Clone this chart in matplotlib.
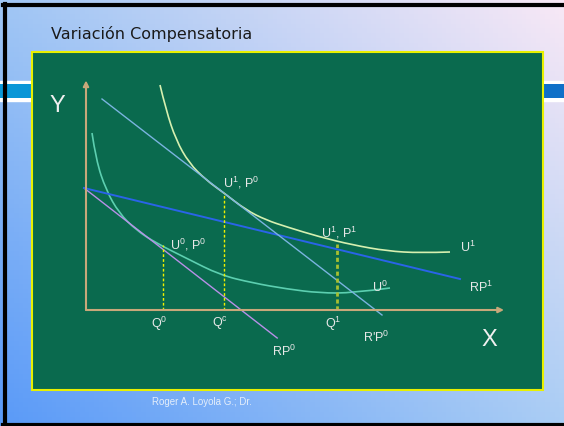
import numpy as np
import matplotlib.pyplot as plt
from matplotlib.patches import Rectangle, PathPatch
from matplotlib.path import Path

plt.rcParams['mathtext.fontset'] = 'custom'
plt.rcParams['mathtext.rm'] = 'Liberation Sans'
plt.rcParams['mathtext.it'] = 'Liberation Sans'

# budget lines (x, y) ends
rp0_x = [-0.05, 4.78]
rp0_y = [3.05, -0.70]
rp1_x = [-0.05, 9.35]
rp1_y = [3.05, 0.775]
rpp0_x = [0.40, 7.40]
rpp0_y = [5.275, -0.125]

# indifference curves
u1_x = [1.85, 2.0, 2.25, 2.575, 3.0, 3.45, 4.0, 4.5, 5.025, 5.85, 6.675, 7.525, 8.35, 9.1]
u1_y = [5.625, 5.0, 4.25, 3.675, 3.25, 2.925, 2.5, 2.25, 2.075, 1.825, 1.625, 1.475, 1.425, 1.45]
u0_x = [0.15, 0.25, 0.5, 0.825, 1.25, 1.75, 2.5, 3.35, 4.175, 5.025, 5.85, 6.675, 7.6]
u0_y = [4.425, 3.75, 3.0, 2.425, 2.0, 1.675, 1.3, 0.875, 0.675, 0.525, 0.425, 0.425, 0.55]

# quantities
q_names = ['Q$^0$', 'Q$^c$', 'Q$^1$']
q_x = [1.925, 3.45, 6.275]
q_top = [1.625, 2.925, 1.65]


def smooth_path(xs, ys):
    # quadratic bezier pieces through midpoints, inner points act as controls
    pts = list(zip(xs, ys))
    verts = [pts[0]]
    codes = [Path.MOVETO]
    for i in range(1, len(pts) - 1):
        mid = ((pts[i][0] + pts[i + 1][0]) / 2, (pts[i][1] + pts[i + 1][1]) / 2)
        if i == len(pts) - 2:
            mid = pts[-1]
        verts += [pts[i], mid]
        codes += [Path.CURVE3, Path.CURVE3]
    return Path(verts, codes)


W, H = 564, 426
fig = plt.figure(figsize=(W / 100, H / 100), dpi=100)

# slide background
bg = fig.add_axes([0, 0, 1, 1])
bg.axis('off')
tl = np.array([160, 198, 244]) / 255
tr = np.array([248, 232, 246]) / 255
bl = np.array([90, 154, 248]) / 255
br = np.array([170, 205, 244]) / 255
u = np.linspace(0, 1, 120)[None, :, None]
v = np.linspace(0, 1, 90)[:, None, None]
grad = (1 - v) * ((1 - u) * tl + u * tr) + v * ((1 - u) * bl + u * br)
bg.imshow(grad, extent=(0, W, H, 0), aspect='auto', zorder=0)

band = np.linspace(0, 1, 100)[None, :, None]
band_img = (1 - band) * np.array([10, 152, 216]) / 255 + band * np.array([16, 112, 200]) / 255
bg.add_patch(Rectangle((0, 81), W, 20, color='white', zorder=1))
bg.imshow(band_img, extent=(0, W, 98, 84), aspect='auto', zorder=2)

bg.add_patch(Rectangle((32, 52), 511, 338, facecolor='#0a6a4e', edgecolor='#e8f000', lw=1.5, zorder=3))
bg.plot([4.5, 4.5], [4, 425], color='black', lw=3, zorder=4)
bg.plot([3, W], [4.5, 4.5], color='black', lw=3, zorder=4)
bg.plot([3, W], [424.5, 424.5], color='black', lw=3, zorder=4)
bg.set_xlim(0, W)
bg.set_ylim(H, 0)

bg.text(51, 34, 'Variación Compensatoria', fontsize=11.5, family='DejaVu Sans',
        color='#1a1a1a', va='center', ha='left', zorder=5)
bg.text(152, 402, 'Roger A. Loyola G.; Dr.', fontsize=7, family='Liberation Sans',
        color='#e4eefa', va='center', ha='left', zorder=5)

# chart area, origin at (86, 310) px, 40 px per unit
ax = fig.add_axes([0, 0, 1, 1])
ax.patch.set_alpha(0)
ax.axis('off')
ax.set_xlim(-86 / 40, (W - 86) / 40)
ax.set_ylim((310 - H) / 40, 310 / 40)

axis_c = '#c8a87a'
ax.annotate('', xy=(10.45, 0), xytext=(0, 0),
            arrowprops=dict(arrowstyle='-|>', color=axis_c, lw=1.5, mutation_scale=8, shrinkA=0, shrinkB=0))
ax.annotate('', xy=(0, 5.74), xytext=(0, 0),
            arrowprops=dict(arrowstyle='-|>', color=axis_c, lw=1.5, mutation_scale=8, shrinkA=0, shrinkB=0))

ax.plot(rp0_x, rp0_y, color='#b890e8', lw=1.0)
ax.plot(rp1_x, rp1_y, color='#2a64e8', lw=1.4)
ax.plot(rpp0_x, rpp0_y, color='#7ab4e0', lw=1.0)
ax.add_patch(PathPatch(smooth_path(u0_x, u0_y), facecolor='none', edgecolor='#5ccfb0', lw=1.2))
ax.add_patch(PathPatch(smooth_path(u1_x, u1_y), facecolor='none', edgecolor='#d6f0b0', lw=1.2))

lab = dict(fontsize=9, color='#e8e8e8', family='Liberation Sans', va='center')
for i in range(len(q_x)):
    if i == 2:
        ax.plot([q_x[i], q_x[i]], [0, q_top[i]], color='#a8c030', lw=2, ls=(0, (1.5, 1)))
    else:
        ax.plot([q_x[i], q_x[i]], [0, q_top[i]], color='#f0f000', lw=1, ls=(0, (2, 1.5)))
    ax.text(q_x[i] - 0.1, -0.35, q_names[i], ha='center', **lab)

ax.text(3.425, 3.175, 'U$^1$, P$^0$', ha='left', **lab)
ax.text(2.1, 1.625, 'U$^0$, P$^0$', ha='left', **lab)
ax.text(5.875, 1.925, 'U$^1$, P$^1$', ha='left', **lab)
ax.text(9.35, 1.575, 'U$^1$', ha='left', **lab)
ax.text(9.575, 0.575, 'RP$^1$', ha='left', **lab)
ax.text(7.15, 0.575, 'U$^0$', ha='left', **lab)
ax.text(4.65, -1.025, 'RP$^0$', ha='left', **lab)
ax.text(6.925, -0.675, "R'P$^0$", ha='left', **lab)
ax.text(10.075, -0.75, 'X', fontsize=17, family='Liberation Sans', color='#f0f0f0', ha='center', va='center')
ax.text(-0.725, 5.1, 'Y', fontsize=17, family='Liberation Sans', color='#f0f0f0', ha='center', va='center')

plt.savefig('out.png', dpi=100)
